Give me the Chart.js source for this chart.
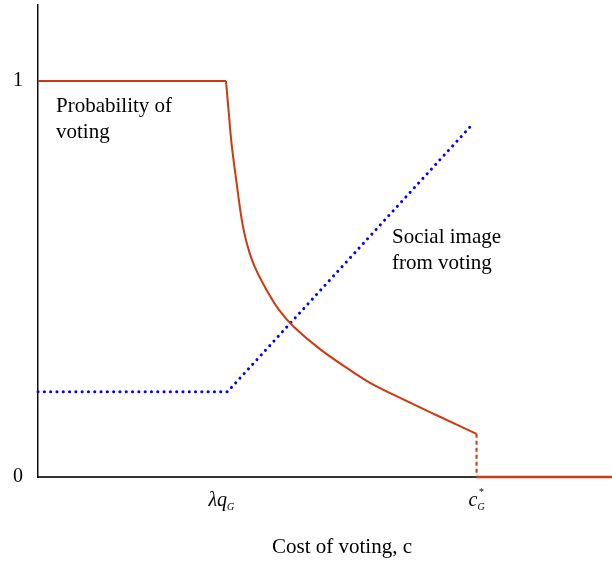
<!DOCTYPE html>
<html>
<head>
    <title>Probability of voting</title>
    <script src="https://cdn.jsdelivr.net/npm/chart.js@4.4.1/dist/chart.umd.min.js"></script>
    <style>
        body { margin: 0; background: #fff; }
        .wrap { width: 612px; height: 563px; }
    </style>
</head>
<body>
    <div class="wrap"><canvas id="myChart" width="612" height="563"></canvas></div>

    <script>
        // data (x: cost, 0..100; y: 0..1)
        const probFlatX = [0, 32.75];
        const probFlatY = [1, 1];
        const probCurveX = [32.75, 33.24, 33.75, 34.58, 35.45, 36.06, 36.76, 37.63, 39.15, 41.99, 44.6, 49.13, 54.88, 57.84, 63.64, 69.46, 76.4];
        const probCurveY = [1, 0.919, 0.838, 0.745, 0.654, 0.609, 0.571, 0.535, 0.49, 0.422, 0.379, 0.323, 0.265, 0.238, 0.196, 0.156, 0.109];
        const cutoffX = [76.4, 76.4];
        const cutoffY = [0.109, 0];
        const zeroX = [76.4, 100];
        const zeroY = [0, 0];
        const imageX = [0, 33, 75.7];
        const imageY = [0.215, 0.215, 0.891];
        const xTicks = [33, 76.4];
        const yTicks = [0, 1];

        const red = '#D0380E';
        const blue = '#0000FF';
        const serif = "'Liberation Serif', 'Times New Roman', serif";

        function pts(xs, ys) {
            return xs.map((x, i) => ({ x: x, y: ys[i] }));
        }

        // text labels that Chart.js cannot do (subscripts, notes)
        const labelPlugin = {
            id: 'labels',
            afterDraw(chart) {
                const ctx = chart.ctx;
                const xs = chart.scales.x;
                ctx.save();
                ctx.fillStyle = '#000';
                ctx.textBaseline = 'alphabetic';

                // lambda q_G
                let px = xs.getPixelForValue(xTicks[0]);
                ctx.font = 'italic 20px ' + serif;
                ctx.textAlign = 'left';
                let w = ctx.measureText('\u03BBq').width;
                let x0 = px - 19;
                ctx.fillText('\u03BBq', x0, 506);
                ctx.font = 'italic 10px ' + serif;
                ctx.fillText('G', x0 + w, 510);

                // c*_G
                px = xs.getPixelForValue(xTicks[1]);
                ctx.font = 'italic 20px ' + serif;
                w = ctx.measureText('c').width;
                x0 = px - 8;
                ctx.fillText('c', x0, 506);
                ctx.font = 'italic 10px ' + serif;
                ctx.fillText('G', x0 + w, 510);
                ctx.fillText('*', x0 + w + 1, 495);

                // axis title and notes
                ctx.font = '21px ' + serif;
                ctx.textAlign = 'center';
                ctx.fillText('Cost of voting, c', 342, 553);
                ctx.textAlign = 'left';
                ctx.fillText('Probability of', 56, 112);
                ctx.fillText('voting', 56, 138);
                ctx.fillText('Social image', 392, 243);
                ctx.fillText('from voting', 392, 269);
                ctx.restore();
            }
        };

        const ctx = document.getElementById('myChart');
        const myChart = new Chart(ctx, {
            type: 'line',
            data: {
                datasets: [
                    {
                        data: pts(probFlatX, probFlatY),
                        borderColor: red, borderWidth: 2, pointRadius: 0
                    },
                    {
                        data: pts(probCurveX, probCurveY),
                        borderColor: red, borderWidth: 2, pointRadius: 0,
                        tension: 0.4
                    },
                    {
                        data: pts(cutoffX, cutoffY),
                        borderColor: red, borderWidth: 2, pointRadius: 0,
                        borderDash: [4, 3]
                    },
                    {
                        data: pts(zeroX, zeroY),
                        borderColor: red, borderWidth: 2.5, pointRadius: 0
                    },
                    {
                        data: pts(imageX, imageY),
                        borderColor: blue, borderWidth: 3, pointRadius: 0,
                        borderDash: [0.1, 6.2], borderCapStyle: 'round'
                    }
                ]
            },
            options: {
                responsive: false,
                animation: false,
                clip: false,
                layout: { padding: { top: 5, right: 0, left: 0, bottom: 0 } },
                plugins: {
                    legend: { display: false },
                    tooltip: { enabled: false }
                },
                scales: {
                    x: {
                        type: 'linear',
                        min: 0,
                        max: 100,
                        grid: { display: false, drawTicks: false },
                        border: { display: true, color: '#333', width: 2 },
                        ticks: { display: false },
                        afterFit: function (scale) {
                            scale.height = 86;
                            scale.paddingLeft = 0;
                            scale.paddingRight = 0;
                        }
                    },
                    y: {
                        type: 'linear',
                        min: 0,
                        max: 1.192,
                        grid: { display: false, drawTicks: false },
                        border: { display: true, color: '#111', width: 1.5 },
                        afterBuildTicks: function (scale) {
                            scale.ticks = yTicks.map(v => ({ value: v }));
                        },
                        ticks: {
                            color: '#000',
                            padding: 15,
                            font: { family: serif, size: 20 },
                            callback: function (v) { return String(v); }
                        },
                        afterFit: function (scale) {
                            scale.width = 38;
                            scale.paddingTop = 0;
                            scale.paddingBottom = 0;
                        }
                    }
                }
            },
            plugins: [labelPlugin]
        });
    </script>
</body>
</html>
